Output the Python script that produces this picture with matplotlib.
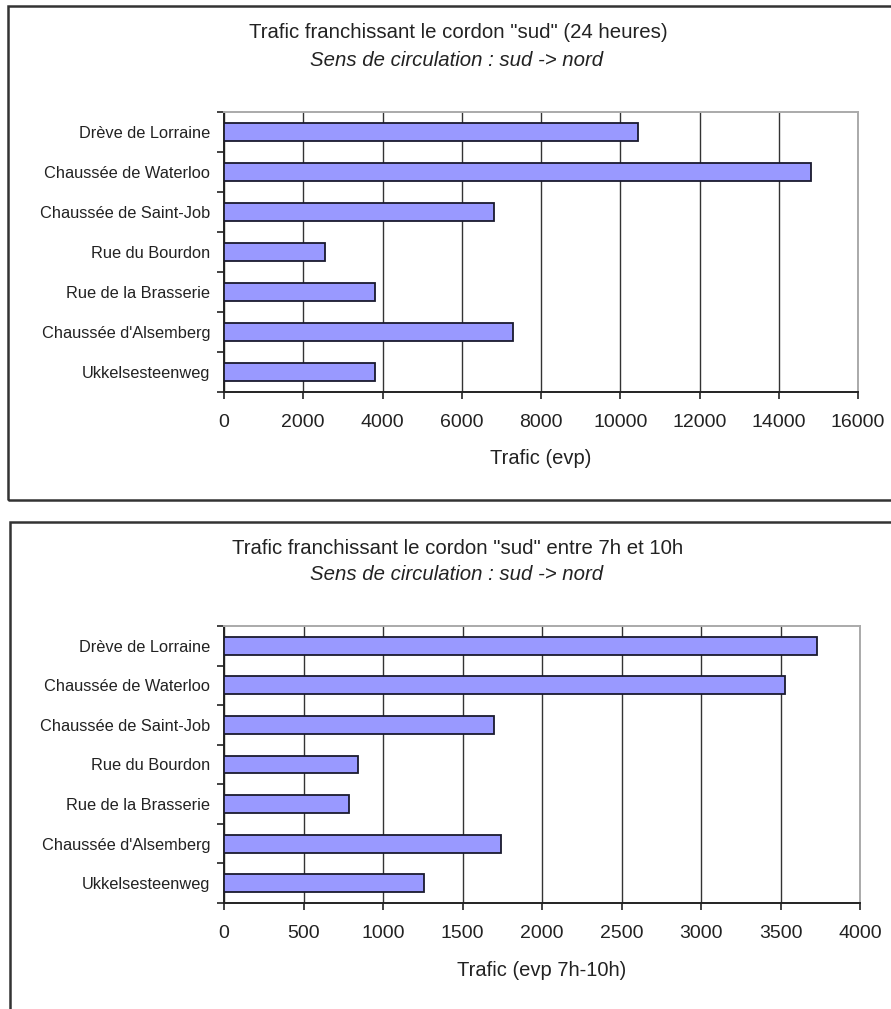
import matplotlib
matplotlib.use("Agg")
import matplotlib.pyplot as plt
from matplotlib.patches import Rectangle
from matplotlib.ticker import FixedLocator

plt.rcParams['font.family'] = ['Liberation Sans', 'DejaVu Sans']

categories = ["Drève de Lorraine", "Chaussée de Waterloo", "Chaussée de Saint-Job",
              "Rue du Bourdon", "Rue de la Brasserie", "Chaussée d'Alsemberg",
              "Ukkelsesteenweg"]
traffic_24h = [10450, 14820, 6820, 2540, 3820, 7300, 3820]
traffic_7_10 = [3730, 3530, 1700, 840, 785, 1745, 1255]

ticks_24h = [0, 2000, 4000, 6000, 8000, 10000, 12000, 14000, 16000]
ticks_7_10 = [0, 500, 1000, 1500, 2000, 2500, 3000, 3500, 4000]

title_24h = 'Trafic franchissant le cordon "sud" (24 heures)'
title_7_10 = 'Trafic franchissant le cordon "sud" entre 7h et 10h'
subtitle = 'Sens de circulation : sud -> nord'
xlabel_24h = 'Trafic (evp)'
xlabel_7_10 = 'Trafic (evp 7h-10h)'

W, H = 891, 1009
fig = plt.figure(figsize=(W / 100, H / 100), dpi=100)
fig.patch.set_facecolor('white')


def fx(px):
    return px / W


def fy(py):
    return 1 - py / H


# panel borders
fig.add_artist(Rectangle((fx(8), fy(500)), fx(1000), (500 - 6) / H, transform=fig.transFigure,
                         fill=False, edgecolor='#333333', linewidth=1.8))
fig.add_artist(Rectangle((fx(10), fy(1100)), fx(1000), (1100 - 522) / H, transform=fig.transFigure,
                         fill=False, edgecolor='#333333', linewidth=1.8))


def draw_panel(left, top, right, bottom, values, ticks, title, xlabel,
               ty, sy, xly):
    ax = fig.add_axes([fx(left), fy(bottom), fx(right - left), (bottom - top) / H])
    y = list(range(len(categories)))
    ax.barh(y, values, height=0.45, color='#9999ff', edgecolor='#1a1a2e',
            linewidth=1.3, zorder=3)
    ax.set_ylim(len(categories) - 0.5, -0.5)
    ax.set_xlim(ticks[0], ticks[-1])
    ax.set_xticks(ticks)
    ax.set_xticklabels([str(t) for t in ticks], fontsize=14, color='#222222')
    ax.set_yticks(y)
    ax.set_yticklabels(categories, fontsize=11.8, color='#222222')
    ax.tick_params(axis='y', which='major', length=0, pad=10)
    ax.yaxis.set_minor_locator(FixedLocator([i - 0.5 for i in range(len(categories) + 1)]))
    ax.tick_params(axis='y', which='minor', length=5, width=1.2, color='#222222')
    ax.tick_params(axis='x', which='major', length=5, width=1.2, color='#222222', pad=11)
    ax.grid(axis='x', color='#333333', linewidth=1.0, zorder=0)
    ax.set_axisbelow(True)
    for s in ['left', 'bottom']:
        ax.spines[s].set_color('#222222')
        ax.spines[s].set_linewidth(1.4)
    for s in ['top', 'right']:
        ax.spines[s].set_color('#aaaaaa')
        ax.spines[s].set_linewidth(1.4)
    fig.text(fx(458), fy(ty), title, ha='center', va='center', fontsize=14.7, color='#222222')
    fig.text(fx(457), fy(sy), subtitle, ha='center', va='center', fontsize=14.7,
             style='italic', color='#222222')
    fig.text(fx((left + right) / 2), fy(xly), xlabel, ha='center', va='center',
             fontsize=14.5, color='#222222')
    return ax


draw_panel(224, 112, 858, 392, traffic_24h, ticks_24h, title_24h, xlabel_24h, 32, 60, 459)
draw_panel(224, 626, 860, 903, traffic_7_10, ticks_7_10, title_7_10, xlabel_7_10, 548, 575, 970)

fig.savefig('out.png', dpi=100)
